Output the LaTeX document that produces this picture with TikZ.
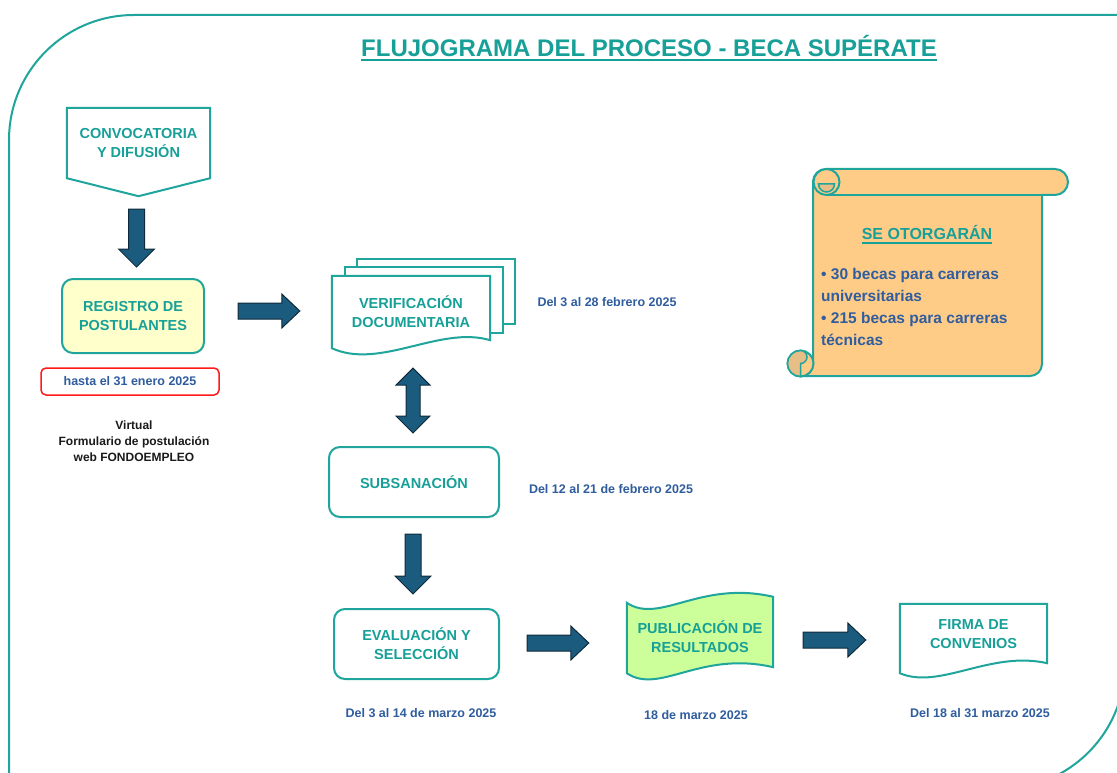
\documentclass[tikz,border=0pt]{standalone}
\usepackage{fontspec}
\setmainfont{Liberation Sans}
\usetikzlibrary{calc,backgrounds}
\definecolor{tealtxt}{HTML}{17A098}
\definecolor{tealline}{HTML}{1FA59C}
\definecolor{datecol}{HTML}{2F5D9E}
\definecolor{arrfill}{HTML}{1B5B7E}
\definecolor{arrline}{HTML}{0F2B3B}
\definecolor{regfill}{HTML}{FFFFCC}
\definecolor{pubfill}{HTML}{CCFF99}
\definecolor{scrollfill}{HTML}{FFCC88}
\definecolor{curlfill}{HTML}{E6BE86}
\definecolor{redbox}{HTML}{FF1A1A}
\definecolor{blacktxt}{HTML}{1A1A1A}
\begin{document}
\begin{tikzpicture}[x=1pt,y=-1pt,
  boxtext/.style={text=tealtxt, font=\fontsize{14.5}{19}\selectfont\bfseries, align=center, inner sep=0pt},
  roundbox/.style={boxtext, draw=tealline, line width=2pt, rounded corners=11pt, fill=white},
  outline/.style={draw=tealline, line width=2pt, fill=white},
  datetxt/.style={text=datecol, font=\fontsize{12.5}{15}\selectfont\bfseries, inner sep=0pt},
  blockarrow/.style={fill=arrfill, draw=arrline, line width=1pt, line join=miter},
  arrowR/.style={blockarrow, to path={
    ($(\tikztostart)+(0,-8)$) -- ($(\tikztotarget)+(-18,-8)$) -- ($(\tikztotarget)+(-18,-17)$)
    -- (\tikztotarget) -- ($(\tikztotarget)+(-18,17)$) -- ($(\tikztotarget)+(-18,8)$)
    -- ($(\tikztostart)+(0,8)$) -- cycle}},
  arrowD/.style={blockarrow, to path={
    ($(\tikztostart)+(-8,0)$) -- ($(\tikztotarget)+(-8,-18)$) -- ($(\tikztotarget)+(-18,-18)$)
    -- (\tikztotarget) -- ($(\tikztotarget)+(18,-18)$) -- ($(\tikztotarget)+(8,-18)$)
    -- ($(\tikztostart)+(8,0)$) -- cycle}},
  arrowUD/.style={blockarrow, to path={
    (\tikztostart) -- ($(\tikztostart)+(17,17)$) -- ($(\tikztostart)+(7,17)$)
    -- ($(\tikztotarget)+(7,-17)$) -- ($(\tikztotarget)+(17,-17)$) -- (\tikztotarget)
    -- ($(\tikztotarget)+(-17,-17)$) -- ($(\tikztotarget)+(-7,-17)$)
    -- ($(\tikztostart)+(-7,17)$) -- ($(\tikztostart)+(-17,17)$) -- cycle}}
]
\useasboundingbox (0,0) rectangle (1117,773);
\begin{scope}[on background layer]
  \fill[white] (0,0) rectangle (1117,773);
\end{scope}
\clip (0,0) rectangle (1117,773);

% outer frame
\draw[tealline, line width=2pt, rounded corners=125pt] (9,900) -- (9,15) -- (1300,15);
\draw[tealline, line width=2pt, rounded corners=125pt] (1125,-100) -- (1125,789) -- (700,789);

% title
\node[text=tealtxt, font=\fontsize{24}{28}\selectfont\bfseries, inner sep=0pt, anchor=base] (title) at (649,57) {FLUJOGRAMA DEL PROCESO - BECA SUPÉRATE};
\draw[tealtxt, line width=1.5pt] ([yshift=-3pt]title.base west) -- ([yshift=-3pt]title.base east);

% convocatoria (off-page shape)
\node[boxtext, minimum width=143pt, minimum height=70pt] (conv) at (138.5,143) {CONVOCATORIA\\Y DIFUSIÓN};
\begin{scope}[on background layer]
  \draw[outline] (conv.north west) -- (conv.north east) -- (conv.south east) -- ($(conv.south)+(0,18)$) -- (conv.south west) -- cycle;
\end{scope}

% registro
\node[roundbox, fill=regfill, minimum width=142pt, minimum height=74pt] (reg) at (133,316) {REGISTRO DE\\POSTULANTES};
\node[datetxt, draw=redbox, line width=1.5pt, rounded corners=5pt, minimum width=178pt, minimum height=27pt] (hasta) at (130,381.5) {hasta el 31 enero 2025};
\node[text=blacktxt, font=\fontsize{12}{16}\selectfont\bfseries, align=center, inner sep=0pt] (virt) at (134,441) {Virtual\\Formulario de postulación\\web FONDOEMPLEO};

% verificacion (multidocument)
\node[boxtext, minimum width=158pt, minimum height=72pt] (ver) at (411,312) {VERIFICACIÓN\\DOCUMENTARIA};
\begin{scope}[on background layer]
  \draw[outline] ($(ver.north west)+(25,-17)$) rectangle ($(ver.south east)+(25,-24)$);
  \draw[outline] ($(ver.north west)+(13,-9)$) rectangle ($(ver.south east)+(13,-15)$);
  \draw[outline] (ver.north west) -- (ver.north east) -- ($(ver.south east)+(0,-8)$)
    .. controls ($(ver.south)+(29,-23)$) and ($(ver.south)+(-31,22)$) .. (ver.south west) -- cycle;
\end{scope}
\node[datetxt] (dver) at (607,302) {Del 3 al 28 febrero 2025};

% subsanacion
\node[roundbox, minimum width=170pt, minimum height=70pt] (subs) at (414,482) {SUBSANACIÓN};
\node[datetxt] (dsubs) at (611,489) {Del 12 al 21 de febrero 2025};

% evaluacion
\node[roundbox, minimum width=165pt, minimum height=70pt] (eval) at (416.5,644) {EVALUACIÓN Y\\SELECCIÓN};
\node[datetxt] (deval) at (421,713) {Del 3 al 14 de marzo 2025};

% publicacion (tape)
\node[boxtext, minimum width=146pt, minimum height=70pt] (pub) at (700,637) {PUBLICACIÓN DE\\RESULTADOS};
\begin{scope}[on background layer]
  \draw[outline, fill=pubfill] ($(pub.north west)+(0,1)$)
    .. controls ($(pub.north west)+(33,23)$) and ($(pub.north west)+(73,-22)$) .. ($(pub.north east)+(0,-5)$)
    -- ($(pub.south east)+(0,-5)$)
    .. controls ($(pub.south west)+(73,-22)$) and ($(pub.south west)+(33,23)$) .. ($(pub.south west)+(0,1)$) -- cycle;
\end{scope}
\node[datetxt] (dpub) at (696,715) {18 de marzo 2025};

% firma (document)
\node[boxtext, minimum width=147pt, minimum height=60pt] (firma) at (973.5,634) {FIRMA DE\\CONVENIOS};
\begin{scope}[on background layer]
  \draw[outline] (firma.north west) -- (firma.north east) -- ($(firma.south east)+(0,-1)$)
    .. controls ($(firma.south east)+(-57,-14)$) and ($(firma.south west)+(40,26)$) .. ($(firma.south west)+(0,9)$) -- cycle;
\end{scope}
\node[datetxt] (dfirma) at (980,713) {Del 18 al 31 marzo 2025};

% scroll
\filldraw[fill=scrollfill, draw=tealline, line width=2pt, line join=round]
  (800,376) -- (1030,376) arc[start angle=-90, end angle=0, radius=12pt]
  -- (1042,195) -- (1055,195) arc[start angle=-90, end angle=90, radius=13pt]
  -- (826,169) arc[start angle=90, end angle=180, radius=13pt]
  -- (813,363) arc[start angle=0, end angle=-90, radius=13pt] -- cycle;
\draw[tealline, line width=2pt] (826,195) -- (1042,195);
\filldraw[fill=scrollfill, draw=tealline, line width=2pt] (826.5,182) circle[radius=13pt];
\filldraw[fill=curlfill, draw=tealline, line width=1.5pt] (818.5,184) arc[start angle=180, end angle=360, radius=8pt] -- cycle;
\filldraw[fill=scrollfill, draw=tealline, line width=2pt] (800.5,363.5) circle[radius=13pt];
\filldraw[fill=curlfill, draw=tealline, line width=1.5pt] (800.5,376.5) arc[start angle=-90, end angle=-270, radius=13pt]
  arc[start angle=90, end angle=-90, radius=6.5pt] -- cycle;
\node[text=tealtxt, font=\fontsize{16}{19}\selectfont\bfseries, inner sep=0pt, anchor=base] (otorg) at (927,240) {SE OTORGARÁN};
\draw[tealtxt, line width=1.3pt] ([yshift=-3pt]otorg.base west) -- ([yshift=-3pt]otorg.base east);
\node[text=datecol, font=\fontsize{15.5}{22}\selectfont\bfseries, align=left, anchor=west, inner sep=0pt] (becas) at (821,307) {• 30 becas para carreras\\universitarias\\• 215 becas para carreras\\técnicas};

% connectors
\coordinate (a1s) at ($(conv.south)+(-2,31)$);
\coordinate (a1e) at ($(conv.south |- reg.north)+(-2,-11)$);
\draw[arrowD] (a1s) to (a1e);
\coordinate (a2s) at ($(reg.east)+(33,-5)$);
\coordinate (a2e) at ($(ver.west)+(-32,-1)$);
\draw[arrowR] (a2s) to (a2e);
\coordinate (a3s) at ($(ver.south)+(2,20)$);
\coordinate (a3e) at ($(subs.north)+(-1,-13)$);
\draw[arrowUD] (a3s) to (a3e);
\coordinate (a4s) at ($(subs.south)+(-1,16)$);
\coordinate (a4e) at ($(subs.south |- eval.north)+(-1,-14)$);
\draw[arrowD] (a4s) to (a4e);
\coordinate (a5s) at ($(eval.east)+(27,-1)$);
\coordinate (a5e) at ($(pub.west |- a5s)+(-38,0)$);
\draw[arrowR] (a5s) to (a5e);
\coordinate (a6s) at ($(pub.east)+(30,3)$);
\coordinate (a6e) at ($(firma.west |- a6s)+(-34,0)$);
\draw[arrowR] (a6s) to (a6e);
\end{tikzpicture}
\end{document}
